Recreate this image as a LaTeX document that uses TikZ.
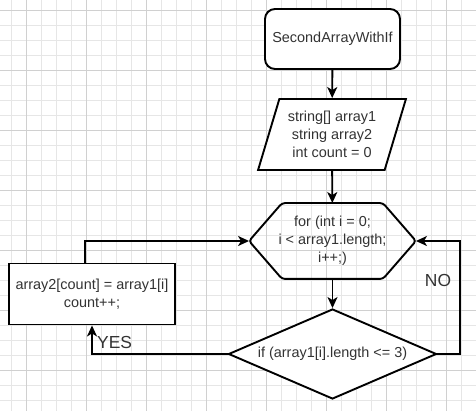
\documentclass[tikz,border=0pt]{standalone}
\usepackage{fontspec}
\setmainfont{Liberation Sans}
\usetikzlibrary{shapes.geometric,arrows.meta}
\definecolor{gridminor}{HTML}{E6E6E6}
\definecolor{gridmajor}{HTML}{D0D0D0}
\definecolor{textgray}{HTML}{333333}
\begin{document}
\begin{tikzpicture}[>={Stealth[length=11bp,width=10bp,inset=3bp]},line join=miter,
  box/.style={draw,line width=1.9bp,align=center,text=textgray,font=\fontsize{14.5}{18}\selectfont,inner sep=0pt},
  flow/.style={black,line width=1.9bp,->},
  answer/.style={text=textgray,font=\fontsize{17.5}{20}\selectfont,inner sep=0pt},]
\useasboundingbox (0bp,0bp) rectangle (476bp,411bp);
%% grid
\foreach \gx in {0,...,30} \draw [gridminor,line width=0.8bp] ({11.7bp+15bp*\gx},0bp) -- ({11.7bp+15bp*\gx},411bp);
\foreach \gy in {0,...,26} \draw [gridminor,line width=0.8bp] (0bp,{11bp+15bp*\gy}) -- (476bp,{11bp+15bp*\gy});
\foreach \gx in {0,...,7} \draw [gridmajor,line width=0.8bp] ({26.7bp+60bp*\gx},0bp) -- ({26.7bp+60bp*\gx},411bp);
\foreach \gy in {0,...,6} \draw [gridmajor,line width=0.8bp] (0bp,{41bp+60bp*\gy}) -- (476bp,{41bp+60bp*\gy});
%%
\node (node_start) at (332.5bp,372bp) [box,fill=white,rounded corners=10bp,minimum width=135bp,minimum height=60bp] {SecondArrayWithIf};
  \node (node_vars) at (332bp,276.5bp) [box,fill=white,trapezium,trapezium stretches=true,trapezium left angle=69,trapezium right angle=111,minimum width=148bp,minimum height=71bp] {string[] array1\\string array2\\int count = 0};
  \node (node_loop) at (332.5bp,170bp) [box,draw=none,minimum width=165bp,minimum height=74bp] {for (int i = 0;\\i < array1.length;\\i++;)};
  \node (node_if) at (332.5bp,57bp) [box,fill=white,diamond,aspect=2.3,minimum width=208bp,minimum height=90bp] {if (array1[i].length <= 3)};
  \node (node_body) at (92bp,117bp) [box,fill=white,minimum width=166bp,minimum height=61bp] {array2[count] = array1[i]\\count++;};
  \coordinate (node_no) at (460bp,57bp);
%
\draw [line width=1.9bp,rounded corners=3bp] ([xshift=33bp]node_loop.north west) -- ([xshift=-33bp]node_loop.north east) -- (node_loop.east) -- ([xshift=-33bp]node_loop.south east) -- ([xshift=33bp]node_loop.south west) -- (node_loop.west) -- cycle;
  \draw [flow] (node_start) -- (node_vars);
  \draw [flow] (node_vars) -- (node_loop);
  \draw [flow] (node_loop) -- (node_if);
  \draw [flow] (node_if.west) -| (node_body.south);
  \draw [flow] (node_if.east) -- (node_no) |- (node_loop.east);
  \draw [flow] ([xshift=-7bp]node_body.north) |- (node_loop.west);
  \node (node_yes) at (97bp,69bp) [answer,anchor=west] {YES};
  \node (node_nolabel) at (438bp,131bp) [answer] {NO};
%
\end{tikzpicture}
\end{document}
